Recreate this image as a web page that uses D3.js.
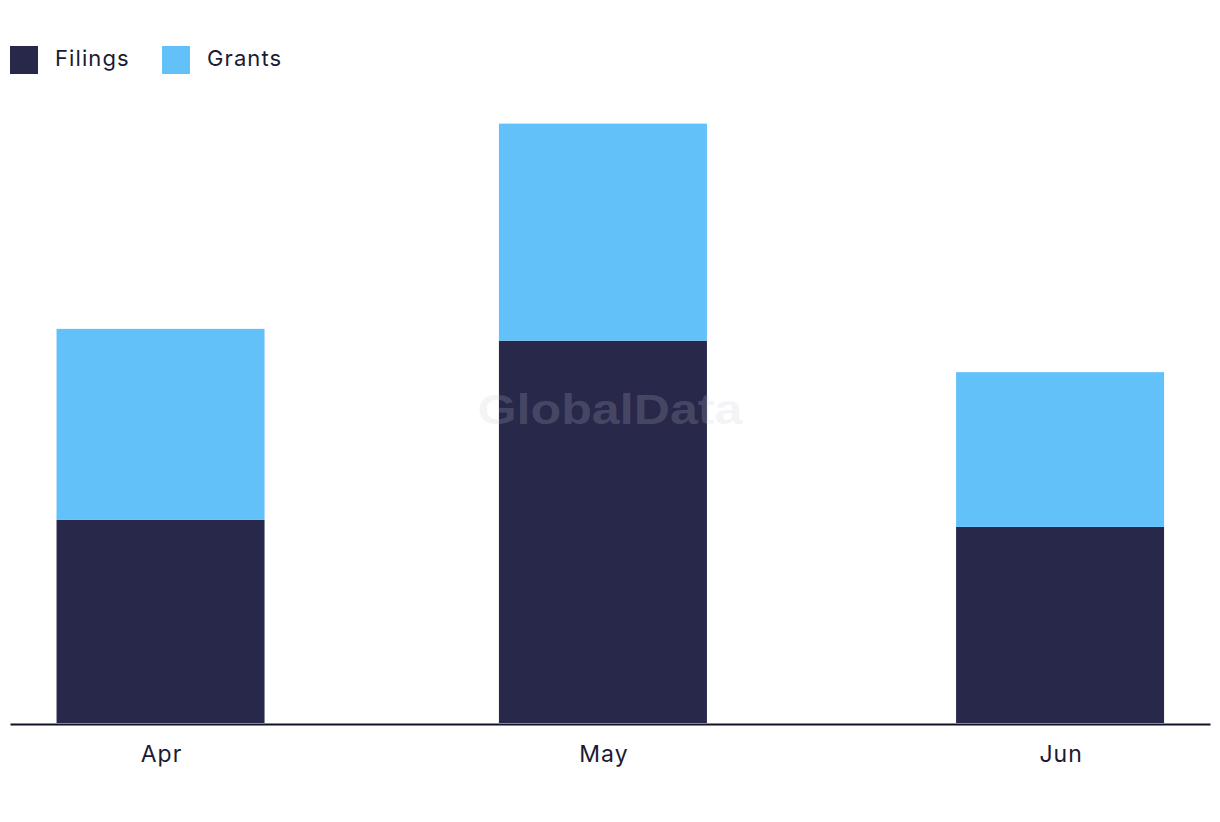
<!DOCTYPE html>
<html>
<head>
<meta charset="utf-8">
<script src="https://cdn.jsdelivr.net/npm/d3@7"></script>
<style>
  html, body { margin: 0; padding: 0; background: #ffffff; }
  svg { display: block; }
  text { font-family: Inter, "Noto Sans", sans-serif; }
</style>
</head>
<body>
<svg id="chart" width="1220" height="822"></svg>
<script>
// ---- data ----
const months = ["2023-04-01", "2023-05-01", "2023-06-01"];
const filings = [31, 58.3, 29.9];
const grants = [29.1, 33.1, 23.6];
const seriesNames = ["Filings", "Grants"];
const seriesColors = ["#27284a", "#62c1f9"];
const yMax = 95;

// ---- layout ----
const W = 1220, H = 822;
const left = 10, right = 1210, baseY = 723, topY = 100;
const padDays = 10.2;
const barW = 208;

const svg = d3.select("#chart");
const parse = d3.utcParse("%Y-%m-%d");
const dates = months.map(parse);

const rows = dates.map((d, i) => ({ date: d, Filings: filings[i], Grants: grants[i] }));
const stack = d3.stack().keys(seriesNames)(rows);

const x = d3.scaleUtc()
  .domain([d3.utcHour.offset(dates[0], -padDays * 24), d3.utcHour.offset(dates[dates.length - 1], padDays * 24)])
  .range([left, right]);

const y = d3.scaleLinear().domain([0, yMax]).range([baseY, topY]);

// bars
svg.append("g").selectAll("g")
  .data(stack)
  .join("g")
  .attr("fill", (d, i) => seriesColors[i])
  .selectAll("rect")
  .data(d => d)
  .join("rect")
  .attr("x", d => x(d.data.date) - barW / 2)
  .attr("width", barW)
  .attr("y", d => y(d[1]))
  .attr("height", d => y(d[0]) - y(d[1]));

// watermark
svg.append("text")
  .attr("x", (left + right) / 2)
  .attr("y", 424)
  .attr("text-anchor", "middle")
  .style("font-family", "'Liberation Sans', Arial, sans-serif")
  .attr("font-weight", "bold")
  .attr("font-size", 42)
  .attr("textLength", 265)
  .attr("lengthAdjust", "spacingAndGlyphs")
  .attr("fill", "#c9c9d2")
  .attr("fill-opacity", 0.2)
  .text("GlobalData");

// x axis
const xAxis = d3.axisBottom(x)
  .tickValues(dates)
  .tickFormat(d3.utcFormat("%b"))
  .tickSize(0)
  .tickSizeOuter(0)
  .tickPadding(22);

const gx = svg.append("g")
  .attr("transform", `translate(0,${baseY + 1})`)
  .call(xAxis);
gx.select(".domain").attr("stroke", "#111128").attr("stroke-width", 2);
gx.selectAll(".tick text")
  .attr("fill", "#1b1b33")
  .attr("font-size", 23)
  .attr("dx", "0.5")
  .style("letter-spacing", "1px")
  .style("font-family", "Inter, 'Noto Sans', sans-serif");

// legend
const legendX = [10, 162];
const lg = svg.append("g").selectAll("g")
  .data(seriesNames)
  .join("g")
  .attr("transform", (d, i) => `translate(${legendX[i]},46)`);
lg.append("rect")
  .attr("width", 28).attr("height", 28)
  .attr("fill", (d, i) => seriesColors[i]);
lg.append("text")
  .attr("x", 45)
  .attr("y", 20)
  .attr("font-size", 22)
  .style("letter-spacing", "1.1px")
  .attr("fill", "#1b1b33")
  .text(d => d);
</script>
</body>
</html>
